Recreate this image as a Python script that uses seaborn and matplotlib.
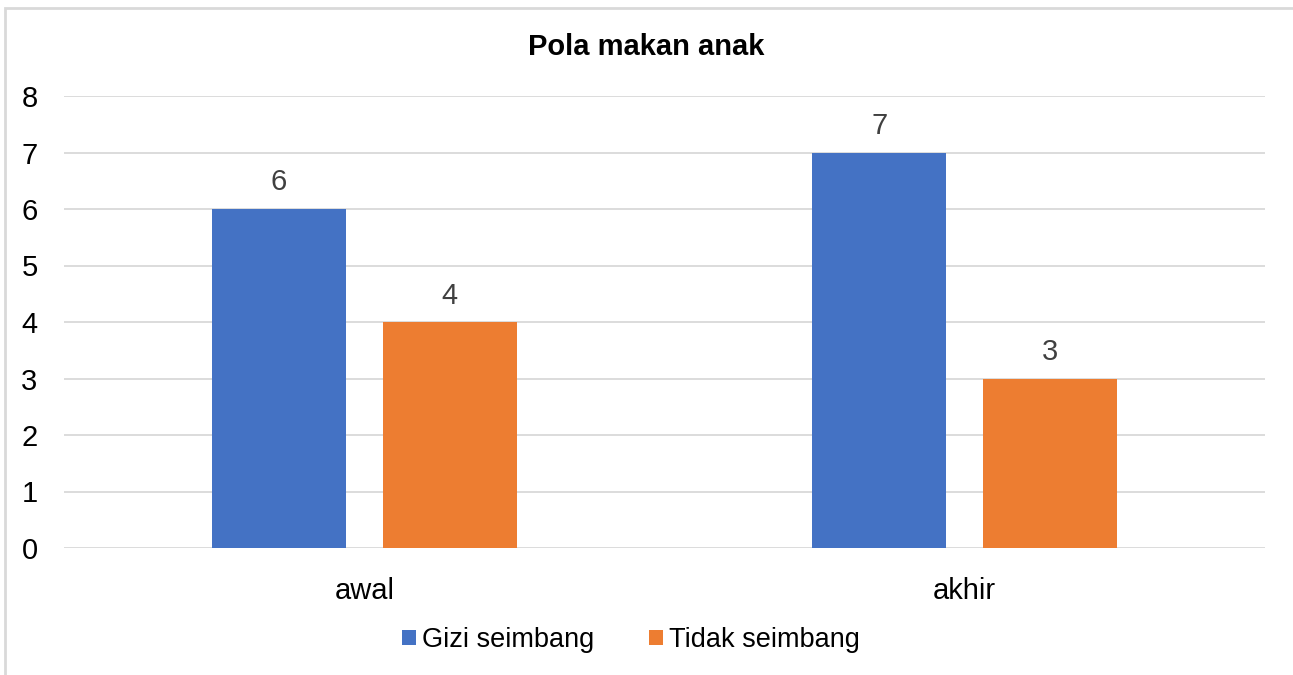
import numpy as np
import pandas as pd
import seaborn as sns
import matplotlib.pyplot as plt
from matplotlib.patches import Rectangle, Patch

# data
kategori = ["awal", "akhir"]
seri = ["Gizi seimbang", "Tidak seimbang"]
gizi_seimbang = [6, 7]
tidak_seimbang = [4, 3]
warna = ["#4472C4", "#ED7D31"]

df = pd.DataFrame({
    "waktu": kategori * 2,
    "status": [seri[0]] * 2 + [seri[1]] * 2,
    "jumlah": gizi_seimbang + tidak_seimbang,
})

sns.set_style("white")
plt.rcParams["font.family"] = ["Liberation Sans", "DejaVu Sans"]
plt.rcParams["text.color"] = "black"

fig = plt.figure(figsize=(12.93, 6.75), dpi=100)
ax = fig.add_axes([64 / 1293, 1 - 548 / 675, 1201 / 1293, 452 / 675])

sns.barplot(data=df, x="waktu", y="jumlah", hue="status", palette=warna,
            width=0.57, gap=0.218, saturation=1, linewidth=0, ax=ax, legend=False)

ax.set_ylim(0, 8)
ax.set_yticks(range(0, 9))
ax.yaxis.grid(True, color="#d9d9d9", linewidth=1.3)
ax.set_axisbelow(True)
for s in ax.spines.values():
    s.set_visible(False)
ax.tick_params(axis="both", length=0, labelsize=21, labelcolor="black")
ax.tick_params(axis="y", pad=19)
ax.tick_params(axis="x", pad=21)
ax.set_xlabel("")
ax.set_ylabel("")

for c in ax.containers:
    ax.bar_label(c, fmt="%g", padding=9, fontsize=21, color="#404040")

fig.text(0.5, 1 - 47 / 675, "Pola makan anak", ha="center", va="center",
         fontsize=21, fontweight="bold", color="black")

handles = [Patch(facecolor=w, edgecolor="none") for w in warna]
fig.legend(handles, seri, loc="center", bbox_to_anchor=(631 / 1293, 1 - 640 / 675),
           ncol=2, frameon=False, fontsize=19.5, handlelength=0.52,
           handleheight=0.52, handletextpad=0.22, columnspacing=2.0,
           labelcolor="black")

# light chart border (left and top only visible)
fig.patches.append(Rectangle((5 / 1293, -0.1), 2, (675 - 8) / 675 + 0.1,
                             transform=fig.transFigure, fill=False,
                             edgecolor="#d9d9d9", linewidth=2))

fig.savefig("out.png", dpi=100)
